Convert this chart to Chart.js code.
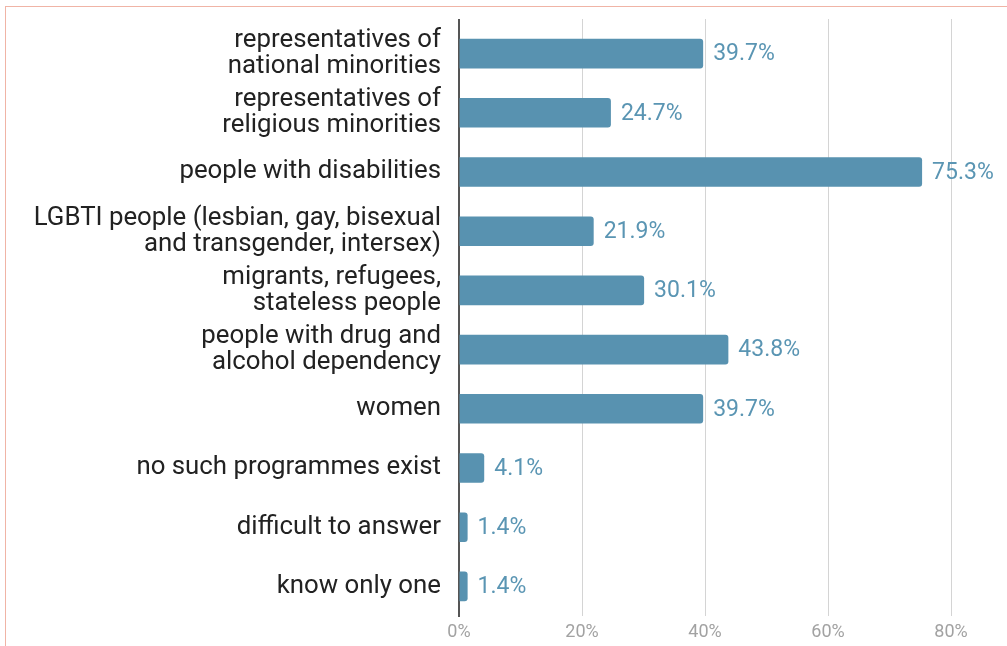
<!DOCTYPE html>
<html>
<head>
<meta charset="utf-8">
<script src="https://cdn.jsdelivr.net/npm/chart.js@4/dist/chart.umd.min.js"></script>
<style>
  html, body { margin: 0; padding: 0; background: #fff; overflow: hidden; }
  .frame {
    position: absolute; left: 5px; top: 6px;
    border-top: 1px solid #f0b4a6; border-left: 1px solid #f0b4a6;
  }
  canvas { display: block; }
</style>
</head>
<body>
<div class="frame"><canvas id="chart" width="1100" height="639"></canvas></div>
<script>
const groups = [
  ["representatives of", "national minorities"],
  ["representatives of", "religious minorities"],
  "people with disabilities",
  ["LGBTI people (lesbian, gay, bisexual", "and transgender, intersex)"],
  ["migrants, refugees,", "stateless people"],
  ["people with drug and", "alcohol dependency"],
  "women",
  "no such programmes exist",
  "difficult to answer",
  "know only one",
]
const shares = [39.7, 24.7, 75.3, 21.9, 30.1, 43.8, 39.7, 4.1, 1.4, 1.4]
const axisMax  = 100
const axisStep = 20

const barColor = '#5892b0'

// gridlines and the zero line poke a few px above the first band
const gridOverhang = {
  id: 'gridOverhang',
  beforeDatasetsDraw(chart) {
    const { ctx, chartArea, scales: { x } } = chart
    const top = chartArea.top - 5
    ctx.save()
    x.ticks.forEach(t => {
      const px = Math.round(x.getPixelForValue(t.value)) + 0.5
      const zero = t.value === 0
      ctx.strokeStyle = zero ? '#555' : '#d4d4d4'
      ctx.lineWidth = zero ? 2 : 1
      ctx.beginPath()
      ctx.moveTo(zero ? chartArea.left : px, top)
      ctx.lineTo(zero ? chartArea.left : px, chartArea.top)
      ctx.stroke()
    })
    ctx.restore()
  }
}

// prints the share just past the end of each bar
const valueLabels = {
  id: 'valueLabels',
  afterDatasetsDraw(chart) {
    const ctx = chart.ctx
    const meta = chart.getDatasetMeta(0)
    ctx.save()
    ctx.font = '23px Roboto'
    ctx.fillStyle = '#5a95b3'
    ctx.textAlign = 'left'
    ctx.textBaseline = 'middle'
    meta.data.forEach((bar, i) => {
      ctx.fillText(shares[i].toFixed(1) + '%', bar.x + 10, bar.y + 1)
    })
    ctx.restore()
  }
}

new Chart(document.getElementById('chart'), {
  type: 'bar',
  data: {
    labels: groups,
    datasets: [{
      data: shares,
      backgroundColor: barColor,
      borderRadius: 3,
      barPercentage: 0.5,
      categoryPercentage: 1,
    }]
  },
  options: {
    indexAxis: 'y',
    responsive: false,
    animation: false,
    layout: { padding: { top: 17, right: 32, bottom: 0, left: 0 } },
    plugins: {
      legend: { display: false },
      tooltip: { enabled: false },
    },
    scales: {
      x: {
        min: 0,
        max: axisMax,
        ticks: {
          stepSize: axisStep,
          padding: 6,
          color: '#a2a2a2',
          font: { family: 'Roboto', size: 18 },
          callback: v => v + '%',
        },
        grid: { color: '#d4d4d4', lineWidth: 1, drawTicks: false },
        border: { display: false },
        afterFit: s => { s.height = 30 },
      },
      y: {
        ticks: {
          padding: 18,
          color: '#222',
          font: { family: 'Roboto', size: 25.8, lineHeight: 1.0 },
        },
        grid: { display: false, drawTicks: false },
        border: { display: true, color: '#555', width: 2 },
        // keep the two-line labels from shrinking the plot area
        afterFit: s => {
          s.width = 453
          s.paddingTop = 0
          s.paddingBottom = 0
        },
      }
    }
  },
  plugins: [gridOverhang, valueLabels]
})
</script>
</body>
</html>
